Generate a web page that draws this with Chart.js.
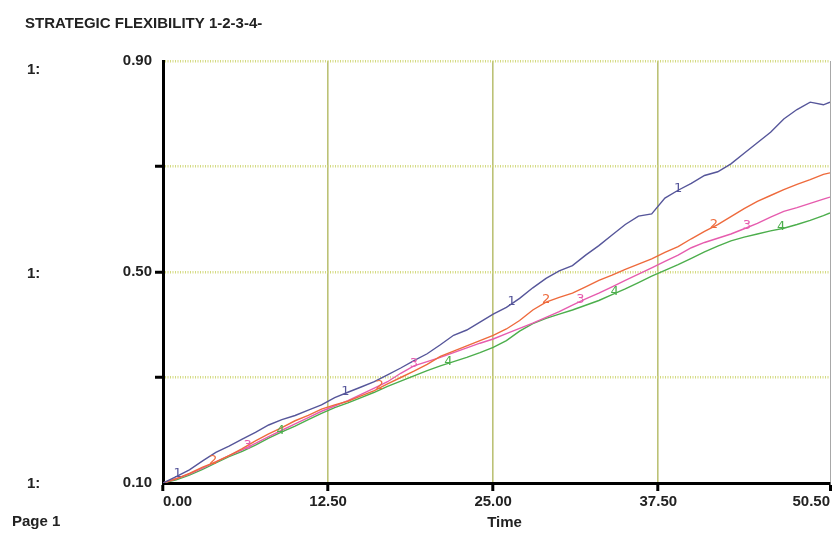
<!DOCTYPE html>
<html>
<head>
<meta charset="utf-8">
<script src="https://cdn.jsdelivr.net/npm/chart.js@4.4.1/dist/chart.umd.min.js"></script>
<style>
  html, body { margin: 0; padding: 0; background: #ffffff; }
  canvas { display: block; }
</style>
</head>
<body>
<canvas id="c" width="836" height="536"></canvas>
<script>
// ---- data ----
const times = [0,1,2,3,4,5,6,7,8,9,10,11,12,13,14,15,16,17,18,19,20,21,22,23,24,25,26,27,28,29,30,31,32,33,34,35,36,37,38,39,40,41,42,43,44,45,46,47,48,49,50,50.5];
const series1 = [0.100,0.112,0.125,0.142,0.158,0.170,0.183,0.196,0.210,0.220,0.228,0.238,0.248,0.262,0.272,0.282,0.292,0.305,0.318,0.332,0.345,0.362,0.380,0.390,0.405,0.420,0.433,0.450,0.470,0.488,0.502,0.512,0.532,0.550,0.570,0.590,0.606,0.610,0.640,0.655,0.668,0.683,0.690,0.705,0.725,0.745,0.765,0.790,0.808,0.822,0.817,0.822];
const series2 = [0.100,0.108,0.118,0.130,0.140,0.152,0.165,0.180,0.193,0.205,0.218,0.228,0.240,0.248,0.255,0.265,0.275,0.288,0.300,0.312,0.325,0.340,0.350,0.360,0.370,0.380,0.392,0.408,0.428,0.443,0.452,0.460,0.472,0.484,0.494,0.505,0.515,0.525,0.537,0.548,0.563,0.577,0.590,0.605,0.620,0.634,0.645,0.656,0.666,0.675,0.685,0.688];
const series3 = [0.100,0.108,0.117,0.128,0.140,0.152,0.163,0.175,0.188,0.200,0.212,0.224,0.236,0.246,0.256,0.268,0.280,0.292,0.308,0.322,0.330,0.338,0.347,0.356,0.365,0.373,0.383,0.393,0.403,0.414,0.425,0.437,0.449,0.460,0.472,0.484,0.496,0.508,0.520,0.532,0.546,0.556,0.564,0.572,0.582,0.592,0.604,0.615,0.622,0.630,0.638,0.642];
const series4 = [0.100,0.106,0.115,0.126,0.138,0.150,0.160,0.172,0.185,0.197,0.208,0.220,0.232,0.243,0.252,0.262,0.272,0.283,0.293,0.303,0.313,0.322,0.330,0.338,0.347,0.357,0.370,0.388,0.402,0.412,0.420,0.428,0.437,0.446,0.457,0.468,0.480,0.492,0.503,0.514,0.526,0.538,0.549,0.559,0.566,0.572,0.578,0.583,0.590,0.598,0.607,0.612];
const seriesNames = ['1','2','3','4'];
const xTickValues = [0, 12.5, 25, 37.5, 50.5];
const xTickLabels = ['0.00','12.50','25.00','37.50','50.50'];
const yTickValues = [0.1, 0.3, 0.5, 0.7, 0.9];
const yTickLabels = ['0.10','','0.50','','0.90'];
// where the series number markers sit along each line (time units)
const markerTimes = [[1.1,13.8,26.4,39.0],[3.8,16.4,29.0,41.7],[6.4,19.0,31.6,44.2],[8.9,21.6,34.2,46.8]];

const colors = ['#56569a','#ee6a3c','#e65cae','#4cae4c'];
const allSeries = [series1, series2, series3, series4];
const FONT = "'Liberation Sans', Arial, sans-serif";

const datasets = allSeries.map((vals, k) => ({
  label: seriesNames[k],
  data: times.map((t, i) => ({x: t, y: vals[i]})),
  borderColor: colors[k],
  borderWidth: 1.4,
  pointRadius: 0,
  tension: 0,
  fill: false
}));

const textPlugin = {
  id: 'texts',
  afterDraw(chart) {
    const c = chart.ctx;
    const ys = chart.scales.y;
    c.save();
    c.fillStyle = '#222';
    c.font = "bold 15px " + FONT;
    c.textBaseline = 'alphabetic';
    c.textAlign = 'left';
    c.fillText('STRATEGIC FLEXIBILITY 1-2-3-4-', 25, 28);
    c.textBaseline = 'middle';
    c.fillText('1:', 27, ys.getPixelForValue(0.9) + 9);
    c.fillText('1:', 27, ys.getPixelForValue(0.5) + 2);
    c.fillText('1:', 27, ys.getPixelForValue(0.1) + 1);
    c.fillText('Page 1', 12, 522);
    c.textAlign = 'center';
    const xs = chart.scales.x;
    c.fillText('Time', (xs.left + xs.right) / 2 + 8, 523);
    c.restore();
  }
};

const markerPlugin = {
  id: 'markers',
  afterDatasetsDraw(chart) {
    const c = chart.ctx;
    const xs = chart.scales.x, ys = chart.scales.y;
    c.save();
    c.font = "13px 'DejaVu Sans', sans-serif";
    c.textAlign = 'center';
    c.textBaseline = 'middle';
    allSeries.forEach((vals, k) => {
      c.fillStyle = colors[k];
      markerTimes[k].forEach(t => {
        let i = 0;
        while (i < times.length - 2 && times[i + 1] < t) i++;
        const f = (t - times[i]) / (times[i + 1] - times[i]);
        const v = vals[i] + f * (vals[i + 1] - vals[i]);
        c.fillText(seriesNames[k], xs.getPixelForValue(t), ys.getPixelForValue(v) - 2);
      });
    });
    c.restore();
  }
};

new Chart(document.getElementById('c'), {
  type: 'line',
  data: { datasets },
  options: {
    responsive: false,
    animation: false,
    devicePixelRatio: 1,
    layout: { padding: { top: 61, right: 6, left: 0, bottom: 0 } },
    plugins: { legend: { display: false }, tooltip: { enabled: false } },
    scales: {
      x: {
        type: 'linear',
        min: 0, max: 50.5,
        afterBuildTicks: s => { s.ticks = xTickValues.map(v => ({ value: v })); },
        afterFit: s => { s.height = 53; s.paddingLeft = 0; s.paddingRight = 0; },
        ticks: {
          autoSkip: false, maxRotation: 0, minRotation: 0, align: 'inner', padding: 2,
          color: '#222', font: { family: FONT, weight: 'bold', size: 15 },
          callback: (v, i) => xTickLabels[i]
        },
        grid: {
          color: c => (c.tick && c.tick.value === 0) ? 'rgba(0,0,0,0)' : (c.tick && c.tick.value === 50.5 ? '#a8a8a8' : '#bcc276'),
          lineWidth: c => (c.tick && c.tick.value === 50.5) ? 1 : 1.6,
          tickColor: '#000', tickLength: 8, tickWidth: 3
        },
        border: { display: true, color: '#000', width: 3 }
      },
      y: {
        min: 0.1, max: 0.9,
        afterBuildTicks: s => { s.ticks = yTickValues.map(v => ({ value: v })); },
        afterFit: s => { s.width = 163; },
        ticks: {
          autoSkip: false, padding: 3,
          color: '#222', font: { family: FONT, weight: 'bold', size: 15 },
          callback: (v, i) => yTickLabels[i]
        },
        grid: {
          color: c => (c.tick && c.tick.value === 0.1) ? 'rgba(0,0,0,0)' : '#d4da80',
          lineWidth: 2.5,
          tickColor: c => (c.tick && (c.tick.value === 0.1 || c.tick.value === 0.9)) ? 'rgba(0,0,0,0)' : '#000',
          tickLength: 8, tickWidth: 3
        },
        border: { display: true, color: '#000', width: 3, dash: [1, 1.5] }
      }
    }
  },
  plugins: [textPlugin, markerPlugin]
});
</script>
</body>
</html>
